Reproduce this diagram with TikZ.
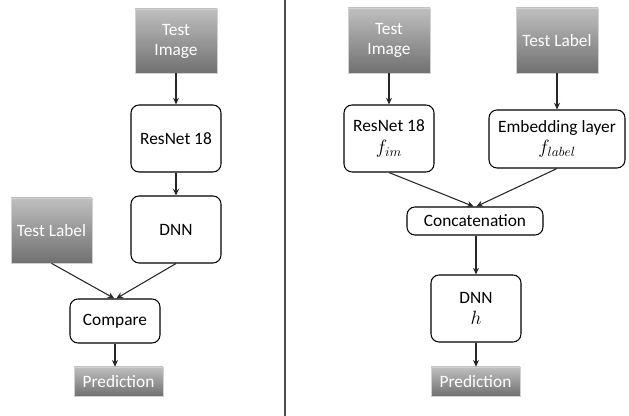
\documentclass[tikz,border=0pt]{standalone}
\usepackage{fontspec}
\setmainfont{Carlito}
\usetikzlibrary{arrows.meta}
\newcommand{\mymath}[1]{{\fontsize{14}{16}\selectfont$#1$}}
\begin{document}
\begin{tikzpicture}[x=0.75pt,y=-0.75pt,
  every node/.style={font=\fontsize{13}{15}\selectfont, align=center, inner sep=0pt},
  grad/.style={shade, top color=black!25, bottom color=black!56, draw=black!18, line width=0.5pt, text=white},
  rbox/.style={draw=black, line width=0.8pt, rounded corners=6pt, fill=white},
  conn/.style={draw=black!85, line width=0.8pt, -{Stealth[length=5pt,width=4.5pt]}}
]
\useasboundingbox (0,0) rectangle (629,416);
% separator
\draw[black!70, line width=0.8pt] (285,0) -- (285,416);

% left panel
\node[grad, minimum width=61.5pt, minimum height=48pt] (timgL) at (176,41) {Test\\Image};
\node[rbox, minimum width=67.5pt, minimum height=50.25pt] (resL) at (176,138.5) {ResNet 18};
\node[rbox, minimum width=67.5pt, minimum height=50.25pt] (dnnL) at (176,229.5) {DNN};
\node[grad, minimum width=60.75pt, minimum height=48.75pt] (tlabL) at (51.5,230.5) {Test Label};
\node[rbox, minimum width=67.5pt, minimum height=33pt] (cmpL) at (115,321) {Compare};
\node[grad, minimum width=66.75pt, minimum height=21.75pt] (predL) at (118.5,381.5) {Prediction};

\draw[conn] (timgL.south) -- (resL.north);
\draw[conn] (resL.south) -- (dnnL.north);
\draw[conn] (tlabL.south) -- ([xshift=-0.5pt]cmpL.north);
\draw[conn] (dnnL.south) -- ([xshift=1pt]cmpL.north);
\draw[conn] (cmpL.south) -- (cmpL.south |- predL.north);

% right panel
\node[grad, minimum width=61.5pt, minimum height=48.75pt] (timgR) at (389,40.5) {Test\\Image};
\node[grad, minimum width=61.5pt, minimum height=48.75pt] (tlabR) at (557,40.5) {Test Label};
\node[rbox, minimum width=67.5pt, minimum height=50.25pt] (resR) at (389,138.5) {ResNet 18\\[1pt]\mymath{f_{im}}};
\node[rbox, minimum width=102pt, minimum height=43.5pt] (embR) at (557,139) {Embedding layer\\[1pt]\mymath{f_{label}}};
\node[rbox, minimum width=102pt, minimum height=21pt] (catR) at (475,221) {Concatenation};
\node[rbox, minimum width=67.5pt, minimum height=50.25pt] (dnnR) at (476,308.5) {DNN\\[1pt]\mymath{h}};
\node[grad, minimum width=66.75pt, minimum height=21.75pt] (predR) at (475.5,381.5) {Prediction};

\draw[conn] (timgR.south) -- (resR.north);
\draw[conn] (tlabR.south) -- (embR.north);
\draw[conn] (resR.south) -- ([xshift=-1pt]catR.north);
\draw[conn] (embR.south) -- ([xshift=1pt]catR.north);
\draw[conn] (catR.south -| dnnR.north) -- (dnnR.north);
\draw[conn] (dnnR.south) -- (dnnR.south |- predR.north);
\end{tikzpicture}
\end{document}
